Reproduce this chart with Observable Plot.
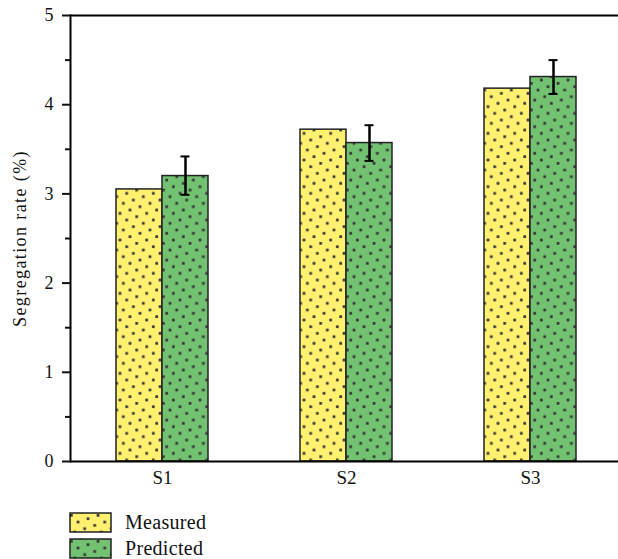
<!DOCTYPE html>
<html>
<head>
<meta charset="utf-8">
<script src="https://cdn.jsdelivr.net/npm/d3@7"></script>
<script src="https://cdn.jsdelivr.net/npm/@observablehq/plot@0.6"></script>
<style>
  body { margin: 0; background: #fff; font-family: "Liberation Serif", serif; }
  #legend { padding-left: 69px; margin-top: 9px; }
  .row { display: flex; align-items: center; height: 26px; font-size: 20px; color: #111; letter-spacing: 0.3px; }
  .row svg { margin-right: 13px; }
</style>
</head>
<body>
<svg width="0" height="0" style="position:absolute">
  <defs id="defs"></defs>
</svg>
<div id="chart"></div>
<div id="legend"></div>
<script>
const groups = ["S1", "S2", "S3"];
const series = ["Measured", "Predicted"];
const measured = [3.05, 3.72, 4.18];
const predicted = [3.20, 3.57, 4.31];
const predLow = [2.99, 3.37, 4.12];
const predHigh = [3.42, 3.77, 4.50];
const yTicks = [0, 1, 2, 3, 4, 5];
const yMinor = [0.5, 1.5, 2.5, 3.5, 4.5];
const yLabel = "Segregation rate (%)";
const colors = {Measured: "#FFF16F", Predicted: "#72C272"};
const patId = {Measured: "pat-m", Predicted: "pat-p"};

// patterns
const defs = d3.select("#defs");
const u = 10 / 3;
const dotPos = [[0,0],[3,7],[2,2],[5,1],[4,4],[7,3],[6,6],[1,5]];
for (const s of series) {
  const p = defs.append("pattern").attr("id", patId[s]).attr("patternUnits", "userSpaceOnUse")
    .attr("width", 8 * u).attr("height", 8 * u).attr("x", 1).attr("y", 2);
  p.append("rect").attr("width", 8 * u).attr("height", 8 * u).attr("fill", colors[s]);
  for (const [a, b] of dotPos) {
    p.append("rect").attr("x", a * u).attr("y", b * u).attr("width", 2.7).attr("height", 2.7).attr("fill", "#363636");
  }
}

const rows = [];
groups.forEach((g, i) => {
  rows.push({group: g, series: "Measured", value: measured[i]});
  rows.push({group: g, series: "Predicted", value: predicted[i], lo: predLow[i], hi: predHigh[i]});
});
const mRows = rows.filter(d => d.series === "Measured");
const pRows = rows.filter(d => d.series === "Predicted");

const font = "Liberation Serif, serif";

const chart = Plot.plot({
  width: 618,
  height: 500,
  marginLeft: 69,
  marginRight: 0,
  marginTop: 15,
  marginBottom: 39,
  style: {fontFamily: font, color: "#111", background: "white", overflow: "visible"},
  fx: {domain: groups, range: [69, 622], padding: 0, label: null},
  x: {domain: series, paddingInner: 0, paddingOuter: 1, axis: null},
  y: {domain: [0, 5], label: null},
  marks: [
    Plot.barY(mRows, {fx: "group", x: "series", y: "value", fill: "url(#pat-m)", stroke: "#222", strokeWidth: 1.5}),
    Plot.barY(pRows, {fx: "group", x: "series", y: "value", fill: "url(#pat-p)", stroke: "#222", strokeWidth: 1.5}),
    Plot.ruleX(pRows, {fx: "group", x: "series", y1: "lo", y2: "hi", stroke: "#000", strokeWidth: 2.5}),
    Plot.tickY(pRows, {fx: "group", x: "series", y: "lo", stroke: "#000", strokeWidth: 2, insetLeft: 18.5, insetRight: 18.5}),
    Plot.tickY(pRows, {fx: "group", x: "series", y: "hi", stroke: "#000", strokeWidth: 2, insetLeft: 18.5, insetRight: 18.5}),
    Plot.ruleY([0, 5], {stroke: "#000", strokeWidth: 2}),
    Plot.frame({anchor: "left", facetAnchor: "left", stroke: "#000", strokeWidth: 2}),
    Plot.axisY({ticks: yTicks, tickSize: 8, tickPadding: 9, fontSize: 18, strokeWidth: 2, label: null, tickFormat: d => String(d)}),
    Plot.axisY({ticks: yMinor, tickSize: 5, strokeWidth: 2, label: null, tickFormat: () => ""}),
    Plot.axisFx({anchor: "bottom", tickSize: 0, tickPadding: 9, fontSize: 19, label: null}),
    Plot.text([yLabel], {facet: "super", frameAnchor: "left", textAnchor: "middle", lineAnchor: "middle", rotate: -90, dx: -50, fontSize: 18, fill: "#111"})
  ]
});
document.getElementById("chart").appendChild(chart);
d3.select(chart).selectAll("text").filter(function() { return this.textContent === yLabel; })
  .style("letter-spacing", "1.4px");

// legend
const legend = d3.select("#legend");
for (const s of series) {
  const row = legend.append("div").attr("class", "row");
  const sv = row.append("svg").attr("width", 43).attr("height", 21);
  sv.append("rect").attr("x", 1).attr("y", 1).attr("width", 41).attr("height", 19)
    .attr("fill", `url(#${patId[s]})`).attr("stroke", "#222").attr("stroke-width", 1.5);
  row.append("span").text(s);
}
</script>
</body>
</html>
